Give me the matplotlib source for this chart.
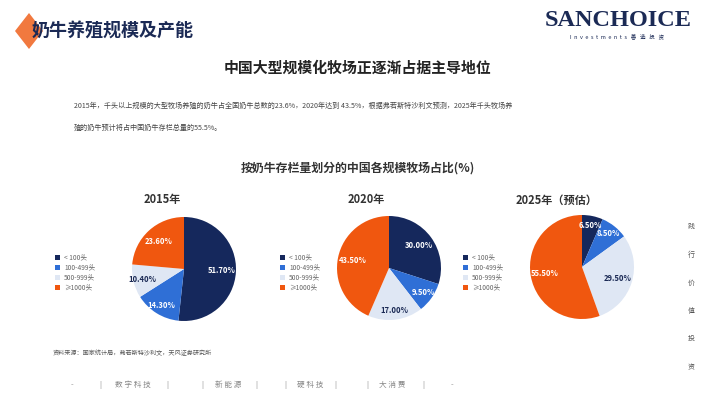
import math
import matplotlib.pyplot as plt
from matplotlib.patches import Polygon

plt.rcParams['font.family'] = ['Noto Sans CJK SC', 'DejaVu Sans']

W, H = 710, 399

# data
categories = ["< 100头", "100-499头", "500-999头", "≥1000头"]
years = ["2015年", "2020年", "2025年（预估）"]
share_2015 = [51.7, 14.3, 10.4, 23.6]
share_2020 = [30.0, 9.5, 17.0, 43.5]
share_2025 = [6.5, 8.5, 29.5, 55.5]
shares = [share_2015, share_2020, share_2025]

colors = ["#15285c", "#2f6fd6", "#dfe7f4", "#f0570f"]
label_colors = ["white", "white", "#1b2a55", "white"]

navy = "#1b2a55"
grey = "#666666"


def fx(x):
    return x / W


def fy(y):
    return 1 - y / H


fig = plt.figure(figsize=(W / 100, H / 100), dpi=100)
fig.patch.set_facecolor("white")

# header
diamond = Polygon([(fx(29), fy(13)), (fx(43), fy(31)), (fx(29), fy(49)), (fx(15), fy(31))],
                  closed=True, transform=fig.transFigure, facecolor="#f06a2a",
                  edgecolor="none", alpha=0.9)
fig.patches.append(diamond)
fig.text(fx(32), fy(31), "奶牛养殖规模及产能", fontsize=13, fontweight="bold",
         color=navy, ha="left", va="center")

fig.text(fx(618), fy(21), "SANCHOICE", fontsize=17.5, color=navy, fontweight="bold",
         family="Liberation Serif", ha="center", va="center")
fig.text(fx(617), fy(36), "I  n  v  e  s  t  m  e  n  t  s   善   选   投   资", fontsize=4,
         color=navy, ha="center", va="center")

fig.text(fx(358), fy(68), "中国大型规模化牧场正逐渐占据主导地位", fontsize=10.7,
         fontweight="bold", color="#222222", ha="center", va="center")
fig.text(fx(74), fy(106),
         "2015年，千头以上规模的大型牧场养殖的奶牛占全国奶牛总数的23.6%，2020年达到 43.5%，"
         "根据弗若斯特沙利文预测，2025年千头牧场养",
         fontsize=5.1, color="#444444", ha="left", va="center")
fig.text(fx(74), fy(128), "殖的奶牛预计将占中国奶牛存栏总量的55.5%。",
         fontsize=5.1, color="#444444", ha="left", va="center")

fig.text(fx(358), fy(168), "按奶牛存栏量划分的中国各规模牧场占比(%)", fontsize=8.6,
         fontweight="bold", color="#333333", ha="center", va="center")

# pies
pie_cx = [184, 389, 582]
pie_cy = [269, 268, 267]
title_x = [162, 366, 557]
legend_x = [55, 280, 463]
r = 52

for i in range(3):
    ax = fig.add_axes([fx(pie_cx[i] - r), fy(pie_cy[i] + r), 2 * r / W, 2 * r / H])
    ax.pie(shares[i], colors=colors, startangle=90, counterclock=False,
           radius=1.0, wedgeprops=dict(linewidth=0))
    total = sum(shares[i])
    acc = 0
    for j, v in enumerate(shares[i]):
        mid = 90 - (acc + v / 2) / total * 360
        acc += v
        d = 0.72 if v >= 20 else 0.82
        ax.text(d * math.cos(math.radians(mid)), d * math.sin(math.radians(mid)),
                f"{v:.2f}%", color=label_colors[j], fontsize=5.5, fontweight="bold",
                ha="center", va="center")
    ax.set_xlim(-1, 1)
    ax.set_ylim(-1, 1)
    ax.set_aspect("equal")
    ax.axis("off")

    fig.text(fx(title_x[i]), fy(200), years[i], fontsize=8, fontweight="bold",
             color="#333333", ha="center", va="center")

    for j, cat in enumerate(categories):
        yy = 257 + j * 10.3
        fig.patches.append(plt.Rectangle((fx(legend_x[i]), fy(yy + 2.5)), 5 / W, 5 / H,
                                         transform=fig.transFigure, facecolor=colors[j],
                                         edgecolor="none"))
        fig.text(fx(legend_x[i] + 9), fy(yy), cat, fontsize=4.8, color=grey,
                 ha="left", va="center")

# right vertical slogan
for k, ch in enumerate("践行价值投资"):
    fig.text(fx(691), fy(227 + k * 28), ch, fontsize=5, color="#555555",
             ha="center", va="center")

fig.text(fx(53), fy(353), "资料来源：国家统计局，弗若斯特沙利文，天风证券研究所",
         fontsize=4.4, color="#555555", style="italic", ha="left", va="center")

# bottom bar
bottom = [(72, "-"), (100, "|"), (133, "数 字 科 技"), (167, "|"), (202, "|"),
          (228, "新 能 源"), (256, "|"), (285, "|"), (310, "硬 科 技"), (335, "|"),
          (367, "|"), (392, "大 消 费"), (423, "|"), (452, "-")]
for bx, s in bottom:
    fig.text(fx(bx), fy(385), s, fontsize=5.5, color="#888888", ha="center", va="center")

fig.savefig("out.png", dpi=100)
